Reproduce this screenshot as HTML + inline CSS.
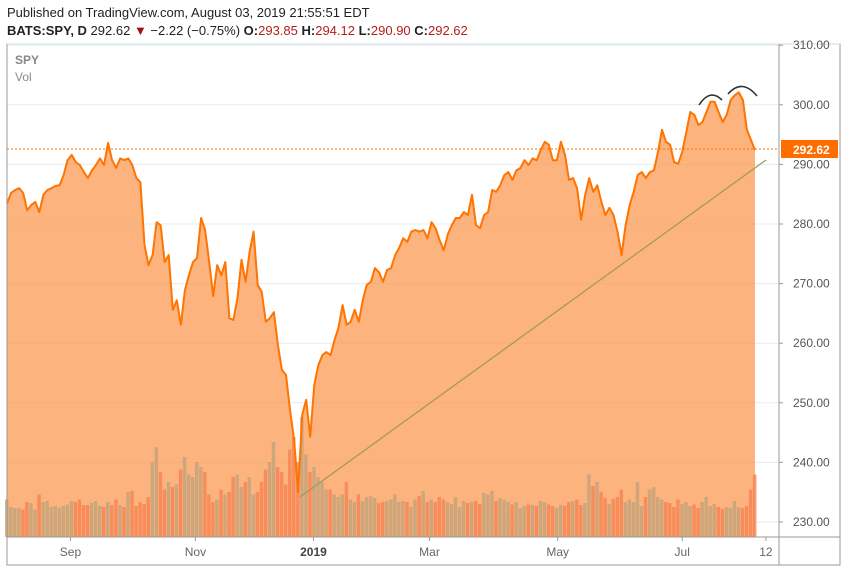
<!DOCTYPE html>
<html><head><meta charset="utf-8"><style>
body{margin:0;background:#fff;width:846px;height:572px;overflow:hidden;font-family:"Liberation Sans",sans-serif}
svg{display:block}
</style></head><body>
<svg id="c" width="846" height="572">
<text x="7" y="17" font-size="13" fill="#222">Published on TradingView.com, August 03, 2019 21:55:51 EDT</text>
<text x="7" y="35" font-size="13" fill="#222"><tspan font-weight="bold">BATS:SPY, D</tspan> 292.62 <tspan fill="#a01010">▼</tspan> −2.22 (−0.75%) <tspan font-weight="bold">O:</tspan><tspan fill="#b71c1c">293.85</tspan> <tspan font-weight="bold">H:</tspan><tspan fill="#b71c1c">294.12</tspan> <tspan font-weight="bold">L:</tspan><tspan fill="#b71c1c">290.90</tspan> <tspan font-weight="bold">C:</tspan><tspan fill="#b71c1c">292.62</tspan></text>
<g id="grid"></g>
<path id="area" fill="#fb9a52" fill-opacity="0.75"/>
<g id="vol2"></g>
<path id="line" fill="none" stroke="#ff7400" stroke-width="2" stroke-linejoin="round"/>
<line x1="300" y1="497" x2="766" y2="160" stroke="#9c9a58" stroke-width="1.2"/>
<path d="M699,105 Q710,88 722,100" fill="none" stroke="#333" stroke-width="1.6"/>
<path d="M728,94 Q742,78 757,96" fill="none" stroke="#333" stroke-width="1.6"/>
<line x1="7" y1="149" x2="779" y2="149" stroke="#ff7400" stroke-dasharray="2,2" stroke-width="1"/>
<rect x="7" y="44" width="833" height="521" fill="none" stroke="#9a9a9a" stroke-width="1"/>
<line x1="7" y1="44" x2="840" y2="44" stroke="#cfdce6"/>
<line x1="779" y1="44" x2="779" y2="565" stroke="#9a9a9a"/>
<line x1="7" y1="537" x2="840" y2="537" stroke="#9a9a9a"/>
<g id="yax"></g><g id="xax"></g>
<rect x="781" y="140" width="57" height="18" fill="#ff6d00"/>
<text x="793" y="154" font-size="12" font-weight="bold" fill="#fff">292.62</text>
<text x="15" y="64" font-size="12" font-weight="bold" fill="#888">SPY</text>
<text x="15" y="81" font-size="12" fill="#888">Vol</text>
</svg>
<script>
const prices=[283.4,285.2,285.7,286,285.2,282.3,283.2,283.7,282,284.9,285.7,286,286.4,286.5,288.2,290.7,291.6,290.4,289.9,288.7,287.7,289,289.9,291,289.9,293.6,290.7,289.4,291,290.7,291,289.9,287.7,287,
276.5,273.1,274.8,280.3,279.8,273.6,274.8,265.6,267.2,263.1,268.9,271.4,273.6,274.3,281,279,273.6,267.9,273.1,271.4,273.6,264.2,263.9,267.6,274,270.3,275.3,278.7,269.8,268.6,263.6,264.2,265.2,259.7,255.5,254.7,
248.8,243.8,235,248,250.5,244.3,253,
256.3,258,258.5,258,260.5,262.6,266.4,263.1,263.6,265.6,263.6,267.2,269.8,270.3,272.6,271.9,270.3,272.3,272.6,274.8,276,277.6,277,278.7,279,278.7,279,277.6,280.3,279.3,277.3,275.6,278.2,279.8,281,281,282,281.5,284.9,279.8,279.3,281.5,282,285.7,285.4,286.5,288.2,288.7,287.4,289,289.4,290.7,289.9,291,290.7,292.4,293.8,293.3,290.7,290.7,293.8,291.6,
287.4,287.7,286,280.7,284.9,287.7,285.4,286.5,283.7,281.5,282.7,281.5,278.7,274.8,279.8,283.2,285.4,288.2,288.7,287.7,288.7,289,292.1,295.8,293.8,293.3,290.4,290.1,292.1,295.4,298.8,298.3,296.6,297.1,298.8,300.5,300.5,298.8,297.1,298.3,300.8,301.6,302.1,300.8,295.8,294.1,292.4];
const volumes=[75,60,58,58,55,70,68,55,85,70,72,60,62,58,62,65,72,70,75,64,64,68,72,62,60,70,64,75,64,60,90,92,62,70,66,80,150,180,130,95,110,100,105,135,160,125,120,150,140,130,85,70,75,95,85,90,120,125,100,110,120,85,90,110,135,150,190,140,130,105,175,200,150,240,165,130,140,120,110,95,95,85,80,85,110,75,70,85,72,80,82,78,68,70,72,75,85,70,72,70,60,75,82,92,70,75,70,80,75,70,66,80,60,72,68,70,72,66,88,85,92,72,78,75,70,65,70,58,62,65,64,62,72,70,65,62,58,64,62,70,72,75,64,68,125,102,110,90,78,66,76,80,95,70,75,70,110,62,80,95,100,80,75,70,68,60,75,66,70,62,65,58,70,80,62,66,60,56,60,58,72,60,58,62,95,125];
const yTicks=[310,300,290,280,270,260,250,240,230];
const xLabels=["Sep","Nov","2019","Mar","May","Jul","12"];
const xLabelIdx=[15.7,46.6,75.8,104.5,136.2,167,187.7];
const NS="http://www.w3.org/2000/svg";
const n=prices.length;
const X0=7,X1=755;
function xs(i){return X0+i*(X1-X0)/(n-1);}
function ys(v){return 522-(v-230)*5.96;}
function vy(v){return 537-v*0.5;}
function mk(tag,attrs,parent){const e=document.createElementNS(NS,tag);for(const k in attrs)e.setAttribute(k,attrs[k]);parent.appendChild(e);return e;}
const grid=document.getElementById('grid'),yax=document.getElementById('yax'),xax=document.getElementById('xax');
yTicks.forEach(t=>{
 const l=mk('line',{x1:7,x2:779,y1:ys(t),y2:ys(t),stroke:'#e3edf3'},grid);
 
 
 const tk=mk('line',{x1:779,x2:783,y1:ys(t),y2:ys(t),stroke:'#9a9a9a'},yax);
 
 
 const tx=mk('text',{x:793,y:ys(t)+4,'font-size':12,fill:'#555'},yax);
 tx.textContent=t.toFixed(2);
 
 
});
xLabels.forEach((s,j)=>{
 const x=xs(xLabelIdx[j]);
 const tk=mk('line',{x1:x,x2:x,y1:537,y2:541,stroke:'#9a9a9a'},xax);
 
 
 const tx=mk('text',{x:x,y:556,'font-size':12,fill:s==='2019'?'#444':'#666','font-weight':s==='2019'?'bold':'normal','text-anchor':'middle'},xax);
 tx.textContent=s;
 
 
});
let d='';prices.forEach((p,i)=>{d+=(i?'L':'M')+xs(i).toFixed(1)+','+ys(p).toFixed(1);});
document.getElementById('line').setAttribute('d',d);
document.getElementById('area').setAttribute('d',d+'L'+xs(n-1)+',537L'+xs(0)+',537Z');
const vg=document.getElementById('vol2');
const bw=(X1-X0)/(n-1);
for(let i=0;i<n;i++){
 const v=volumes[i]||60;
 const up=i===0||prices[i]>=prices[i-1];
 const r=mk('rect',{x:xs(i)-bw/2,y:vy(v),width:bw*0.85,height:537-vy(v),fill:up?'#c2a37a':'#f88252','fill-opacity':0.8},vg);
 
 
}
</script>
</body></html>
